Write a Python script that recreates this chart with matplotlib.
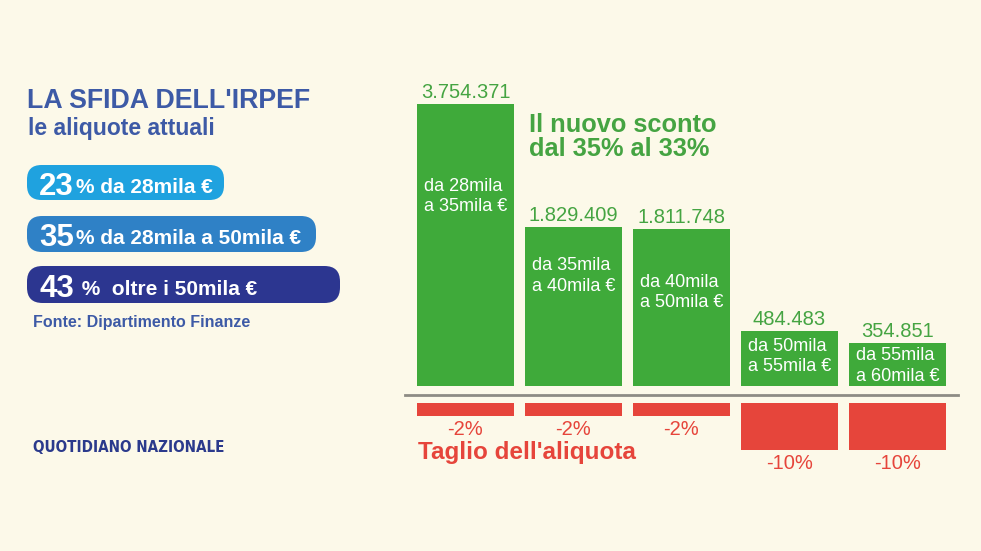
import matplotlib
matplotlib.use("Agg")
import matplotlib.pyplot as plt
from matplotlib.patches import FancyBboxPatch
from matplotlib.lines import Line2D
import numpy as np

# dati
fasce = ["da 28mila\na 35mila €", "da 35mila\na 40mila €", "da 40mila\na 50mila €",
         "da 50mila\na 55mila €", "da 55mila\na 60mila €"]
contribuenti = [3754371, 1829409, 1811748, 484483, 354851]
taglio = [-2, -2, -2, -10, -10]
aliquote = ["23", "35", "43"]
aliquote_desc = ["% da 28mila €", "% da 28mila a 50mila €", " %  oltre i 50mila €"]

# colori
BG = "#fcf9e9"
GREEN = "#3faa3a"
GREEN_TXT = "#45a442"
RED = "#e6453b"
BLUE_TITLE = "#3d5aa6"
PILL_COLORS = ["#1fa2df", "#2f81c6", "#2c3690"]
NAVY = "#2b3a8c"

plt.rcParams["font.family"] = ["Liberation Sans", "DejaVu Sans"]

W, H = 981, 551
fig = plt.figure(figsize=(W / 100, H / 100), dpi=100)
fig.patch.set_facecolor(BG)

# canvas in pixel coords for the decorative parts
cv = fig.add_axes([0, 0, 1, 1])
cv.set_xlim(0, W)
cv.set_ylim(H, 0)
cv.axis("off")

fwd = lambda v: np.sign(v) * np.abs(v) ** 0.8
inv = lambda v: np.sign(v) * np.abs(v) ** 1.25

# green bars (contribuenti)
ax = fig.add_axes([411.5 / W, 1 - 386 / H, 540 / W, 282 / H])
ax.set_yscale("function", functions=(fwd, inv))
ax.set_xlim(-0.5, 4.5)
ax.set_ylim(0, max(contribuenti))
ax.axis("off")
x = np.arange(len(contribuenti))
ax.bar(x, contribuenti, width=0.89, color=GREEN)

label_drop = [74, 30, 45, 7, 4]
for i, v in enumerate(contribuenti):
    ax.annotate(f"{v:,}".replace(",", "."), xy=(i, v), xytext=(0, 2), textcoords="offset pixels",
                ha="center", va="bottom", fontsize=14.5, color=GREEN_TXT, annotation_clip=False)
    ax.annotate(fasce[i], xy=(i - 0.445, v), xytext=(7, -label_drop[i]), textcoords="offset pixels",
                ha="left", va="top", fontsize=13, color="white", linespacing=1.25,
                annotation_clip=False)

# red bars (taglio aliquota)
ax2 = fig.add_axes([411.5 / W, 1 - 450 / H, 540 / W, 47 / H])
ax2.set_yscale("function", functions=(fwd, inv))
ax2.set_xlim(-0.5, 4.5)
ax2.set_ylim(min(taglio), 0)
ax2.axis("off")
ax2.bar(x, taglio, width=0.89, color=RED)
for i, t in enumerate(taglio):
    ax2.annotate(f"{t}%", xy=(i, t), xytext=(0, -4), textcoords="offset pixels",
                 ha="center", va="top", fontsize=14.5, color=RED, annotation_clip=False)

# baseline
fig.add_artist(Line2D([405 / W, 958 / W], [1 - 395 / H, 1 - 395 / H], color="#8d8c84", lw=2))

# titles
cv.text(529, 113, "Il nuovo sconto\ndal 35% al 33%", fontsize=18.3, fontweight="bold",
        color=GREEN_TXT, va="top", ha="left", linespacing=1.02)
cv.text(418, 452, "Taglio dell'aliquota", fontsize=17.5, fontweight="bold", color=RED,
        va="center", ha="left")

cv.text(27, 101, "LA SFIDA DELL'IRPEF", fontsize=19.3, fontweight="bold", color=BLUE_TITLE,
        va="center", ha="left")
cv.text(28, 128, "le aliquote attuali", fontsize=16.5, fontweight="bold", color=BLUE_TITLE,
        va="center", ha="left")

# pills
pill_boxes = [(27, 165, 197, 35), (27, 216, 289, 36), (27, 266, 313, 37)]
for (px, py, pw, ph), col, num, desc in zip(pill_boxes, PILL_COLORS, aliquote, aliquote_desc):
    cv.add_patch(FancyBboxPatch((px, py), pw, ph, boxstyle=f"round,pad=0,rounding_size={ph / 2 - 3}",
                                fc=col, ec="none"))
    t = cv.text(px + 12, py + ph / 2 + 1, num, fontsize=22.5, fontweight="bold", color="white",
                va="center_baseline", ha="left")
    cv.annotate(desc, xy=(1, 0), xycoords=t, xytext=(2, 5), textcoords="offset pixels",
                fontsize=15, fontweight="bold", color="white", va="bottom", ha="left")

cv.text(33, 322, "Fonte: Dipartimento Finanze", fontsize=11.5, fontweight="bold",
        color=BLUE_TITLE, va="center", ha="left")
cv.text(33, 448, "QUOTIDIANO NAZIONALE", fontsize=10.9, fontweight="bold", color=NAVY,
        va="center", ha="left", family="DejaVu Sans", fontstretch="condensed")

fig.savefig("out.png", dpi=100, facecolor=BG)
